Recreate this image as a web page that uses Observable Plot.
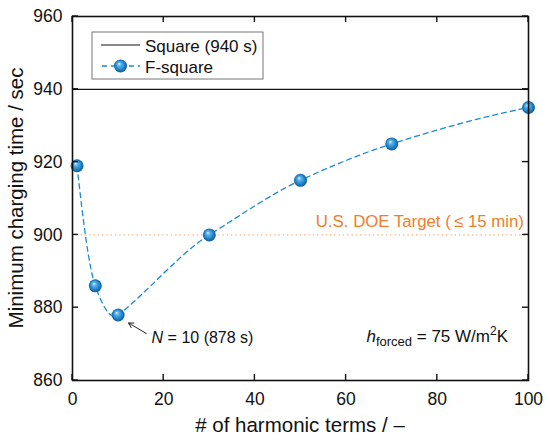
<!DOCTYPE html>
<html>
<head>
<meta charset="utf-8">
<script src="https://cdn.jsdelivr.net/npm/d3@7"></script>
<script src="https://cdn.jsdelivr.net/npm/@observablehq/plot@0.6"></script>
<style>
  html, body { margin: 0; padding: 0; background: #fff; }
  #chart { width: 550px; height: 441px; }
  svg { font-family: "Liberation Sans", Arial, sans-serif; }
</style>
</head>
<body>
<div id="chart"></div>
<script>
// ---- data ----
const harmonicTerms = [1, 5, 10, 30, 50, 70, 100];
const chargingTime = [919, 886, 878, 900, 915, 925, 935];
const squareTime = 940;
const doeTarget = 900;
const xTicks = [0, 20, 40, 60, 80, 100];
const yTicks = [860, 880, 900, 920, 940, 960];
const legendLabels = ["Square (940 s)", "F-square"];
const minPoint = {n: 10, t: 878};

const pts = harmonicTerms.map((n, i) => ({n, t: chargingTime[i]}));
const blue = "#1e88d0";
const orange = "#ef7d2d";
const tickFont = 17.5;

// Akima-spline curve factory (d3 curve interface) used as the line's curve option
function curveAkima(context) {
  let X = [], Y = [];
  return {
    areaStart() {}, areaEnd() {},
    lineStart() { X = []; Y = []; },
    point(x, y) { X.push(+x); Y.push(+y); },
    lineEnd() {
      const n = X.length;
      if (n === 0) return;
      context.moveTo(X[0], Y[0]);
      if (n < 3) { for (let i = 1; i < n; i++) context.lineTo(X[i], Y[i]); return; }
      const d = [];
      for (let i = 0; i < n - 1; i++) d.push((Y[i + 1] - Y[i]) / (X[i + 1] - X[i]));
      const dm1 = 2 * d[0] - d[1], dm2 = 2 * dm1 - d[0];
      const dn = 2 * d[n - 2] - d[n - 3], dn1 = 2 * dn - d[n - 2];
      const D = [dm2, dm1, ...d, dn, dn1]; // D[k+2] = d[k]
      const m = [];
      for (let i = 0; i < n; i++) {
        const a = D[i], b = D[i + 1], c = D[i + 2], e = D[i + 3];
        const w1 = Math.abs(e - c), w2 = Math.abs(b - a);
        m.push(w1 + w2 === 0 ? (b + c) / 2 : (w1 * b + w2 * c) / (w1 + w2));
      }
      for (let i = 0; i < n - 1; i++) {
        const h = X[i + 1] - X[i];
        context.bezierCurveTo(X[i] + h / 3, Y[i] + m[i] * h / 3, X[i + 1] - h / 3, Y[i + 1] - m[i + 1] * h / 3, X[i + 1], Y[i + 1]);
      }
    }
  };
}

const plot = Plot.plot({
  width: 550,
  height: 441,
  marginLeft: 72,
  marginRight: 22,
  marginTop: 16,
  marginBottom: 61,
  style: {fontFamily: '"Liberation Sans", Arial, sans-serif', fontSize: tickFont + "px", color: "#111", background: "#fff", overflow: "visible"},
  x: {domain: [0, 100], ticks: xTicks},
  y: {domain: [860, 960], ticks: yTicks},
  marks: [
    Plot.ruleY([doeTarget], {stroke: "#f6b07a", strokeWidth: 1.3, strokeDasharray: "1.3,3"}),
    Plot.ruleY([squareTime], {stroke: "#111", strokeWidth: 1.2}),
    Plot.line(pts, {x: "n", y: "t", curve: curveAkima, stroke: blue, strokeWidth: 1.3, strokeDasharray: "5,4"}),
    Plot.dot(pts, {x: "n", y: "t", r: 6.5, fill: "url(#sphere)", stroke: "none"}),
    Plot.text([{x: 99, y: doeTarget}], {x: "x", y: "y", text: () => "U.S. DOE Target (\u2009\u2264 15 min)", textAnchor: "end", dy: -13, fill: orange, fontSize: 16.8}),
    Plot.arrow([minPoint], {x1: d => d.n + 6.2, y1: d => d.t - 5.1, x2: d => d.n + 2.3, y2: d => d.t - 2.2, stroke: "#222", strokeWidth: 1, headLength: 8}),
    Plot.axisX({ticks: xTicks, tickSize: 0, tickPadding: 12, fontSize: tickFont, label: null}),
    Plot.axisY({ticks: yTicks, tickSize: 0, tickPadding: 10, fontSize: tickFont, label: null}),
    Plot.frame({stroke: "#111", strokeWidth: 1.6})
  ]
});

document.getElementById("chart").appendChild(plot);

const svg = d3.select(plot);
const xs = plot.scale("x"), ys = plot.scale("y");
const X = v => xs.apply(v), Y = v => ys.apply(v);
const x0 = X(0), x1 = X(100), y0 = Y(860), y1 = Y(960);

// gradient for spheres
const defs = svg.insert("defs", ":first-child");
const grad = defs.append("radialGradient").attr("id", "sphere")
  .attr("cx", "0.5").attr("cy", "0.5").attr("r", "0.55")
  .attr("fx", "0.38").attr("fy", "0.32");
grad.append("stop").attr("offset", "0").attr("stop-color", "#e6f6ff");
grad.append("stop").attr("offset", "0.25").attr("stop-color", "#5bb4ec");
grad.append("stop").attr("offset", "0.7").attr("stop-color", "#1a7cc2");
grad.append("stop").attr("offset", "1").attr("stop-color", "#0d4f8c");

// inward ticks on all four sides
const tk = svg.append("g").attr("stroke", "#111").attr("stroke-width", 1.4);
const tl = 6;
xTicks.forEach(t => {
  tk.append("line").attr("x1", X(t)).attr("x2", X(t)).attr("y1", y0).attr("y2", y0 - tl);
  tk.append("line").attr("x1", X(t)).attr("x2", X(t)).attr("y1", y1).attr("y2", y1 + tl);
});
yTicks.forEach(t => {
  tk.append("line").attr("y1", Y(t)).attr("y2", Y(t)).attr("x1", x0).attr("x2", x0 + tl);
  tk.append("line").attr("y1", Y(t)).attr("y2", Y(t)).attr("x1", x1).attr("x2", x1 - tl);
});

// axis titles
svg.append("text").attr("x", (x0 + x1) / 2).attr("y", 432).attr("text-anchor", "middle")
  .attr("font-size", 20.5).attr("fill", "#111").text("# of harmonic terms / \u2013");
svg.append("text").attr("transform", `translate(23,${(y0 + y1) / 2}) rotate(-90)`).attr("text-anchor", "middle")
  .attr("font-size", 20.5).attr("fill", "#111").text("Minimum charging time / sec");

// legend box (inside plot area)
const lg = svg.append("g").attr("font-size", 17).attr("text-anchor", "start");
const bx = x0 + 20, by = y1 + 16;
lg.append("rect").attr("x", bx).attr("y", by).attr("width", 171).attr("height", 47)
  .attr("fill", "#fff").attr("stroke", "#777").attr("stroke-width", 1);
lg.append("line").attr("x1", bx + 9).attr("x2", bx + 48).attr("y1", by + 13).attr("y2", by + 13)
  .attr("stroke", "#111").attr("stroke-width", 1.2);
lg.append("text").attr("x", bx + 53).attr("y", by + 20).attr("fill", "#111").text(legendLabels[0]);
lg.append("line").attr("x1", bx + 9).attr("x2", bx + 48).attr("y1", by + 34).attr("y2", by + 34)
  .attr("stroke", blue).attr("stroke-width", 1.3).attr("stroke-dasharray", "5,4").attr("stroke-dashoffset", -1);
lg.append("circle").attr("cx", bx + 28.5).attr("cy", by + 34).attr("r", 6.5).attr("fill", "url(#sphere)");
lg.append("text").attr("x", bx + 53).attr("y", by + 41).attr("fill", "#111").text(legendLabels[1]);

// N = 10 annotation
const ann = svg.append("text").attr("x", X(minPoint.n) + 34).attr("y", Y(minPoint.t) + 29)
  .attr("text-anchor", "start").attr("font-size", 16).attr("fill", "#111");
ann.append("tspan").attr("font-style", "italic").text("N");
ann.append("tspan").text(" = " + minPoint.n + " (" + minPoint.t + " s)");

// h_forced annotation
const h = svg.append("text").attr("x", x1 - 20).attr("y", Y(minPoint.t) + 28)
  .attr("text-anchor", "end").attr("font-size", 17).attr("fill", "#111");
h.append("tspan").attr("font-style", "italic").text("h");
h.append("tspan").attr("font-size", 13).attr("dy", 4).text("forced");
h.append("tspan").attr("dy", -4).text(" = 75 W/m");
h.append("tspan").attr("font-size", 12).attr("dy", -7).text("2");
h.append("tspan").attr("dy", 7).text("K");
</script>
</body>
</html>
